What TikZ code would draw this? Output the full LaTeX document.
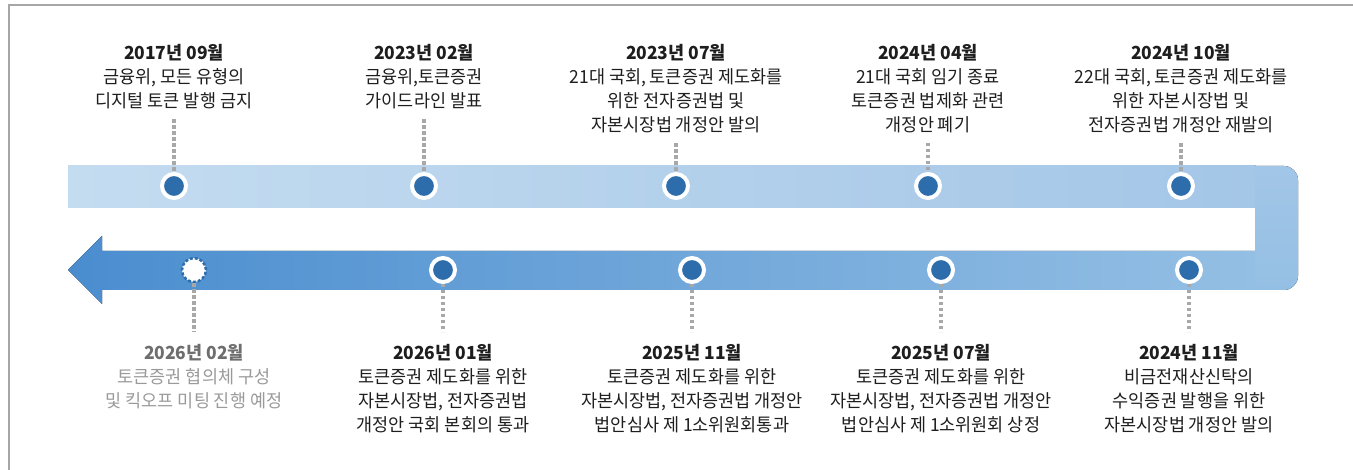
\documentclass[tikz,border=0pt]{standalone}
\usepackage{fontspec}
\setmainfont{Noto Sans CJK KR}[FakeStretch=0.97]
\usetikzlibrary{calc}
\definecolor{dotblue}{HTML}{2E6DAB}
\definecolor{txt}{HTML}{1E1E1E}
\definecolor{grayT}{HTML}{6E6E6E}
\definecolor{grayB}{HTML}{9A9A9A}
\definecolor{connGray}{HTML}{A8A8A8}
\definecolor{borderGray}{HTML}{A6A6A6}
\definecolor{topL}{HTML}{C4DCF0}
\definecolor{topR}{HTML}{A4C6E7}
\definecolor{vertT}{HTML}{A2C6E7}
\definecolor{vertB}{HTML}{94BFE4}
\definecolor{botL}{HTML}{4A8DCF}
\definecolor{botR}{HTML}{94BFE4}
\begin{document}
\begin{tikzpicture}[x=1pt,y=-1pt,
  lab/.style={align=center, inner sep=0pt, text=txt, font=\fontsize{18}{24}\selectfont},
  labgray/.style={lab, text=grayB},
  dotn/.style={circle, fill=dotblue, draw=white, line width=4pt, minimum size=24pt, inner sep=0pt},
  dotplan/.style={circle, fill=white, draw=dotblue, line width=2.5pt, dash pattern=on 3pt off 2pt, minimum size=24pt, inner sep=0pt},
  conn/.style={draw=connGray, line width=3.5pt, dash pattern=on 3.5pt off 2.5pt}]
\useasboundingbox (0,0) rectangle (1353,470);
% frame
\draw[borderGray, line width=2pt] (9,471) -- (9,5) -- (1354,5);
% bands
\fill[left color=topL, right color=topR] (68,166) rectangle (1256,208);
\fill[left color=botL, right color=botR] (68,270) -- (102,236) -- (102,251) -- (1256,251) -- (1256,290) -- (102,290) -- (102,304) -- cycle;
\fill[top color=vertT, bottom color=vertB] (1255,166) -- (1284,166) .. controls (1291.7,166) and (1298,172.3) .. (1298,180) -- (1298,276) .. controls (1298,283.7) and (1291.7,290) .. (1284,290) -- (1255,290) -- cycle;
% top dots
\node[dotn] (d1) at (174,186) {};
\node[dotn] (d2) at (424,186) {};
\node[dotn] (d3) at (676,186) {};
\node[dotn] (d4) at (928,186) {};
\node[dotn] (d5) at (1181,186) {};
% bottom dots
\node[dotplan] (e1) at (194,270) {};
\node[dotn] (e2) at (443,270) {};
\node[dotn] (e3) at (692,270) {};
\node[dotn] (e4) at (941,270) {};
\node[dotn] (e5) at (1189,270) {};
% top labels
\node[lab, anchor=north] (t1) at (174,44) {{\bfseries 2017년 09월}\\금융위, 모든 유형의\\디지털 토큰 발행 금지};
\node[lab, anchor=north] (t2) at (424,44) {{\bfseries 2023년 02월}\\금융위,토큰증권\\가이드라인 발표};
\node[lab, anchor=north] (t3) at (676,44) {{\bfseries 2023년 07월}\\21대 국회, 토큰증권 제도화를\\위한 전자증권법 및\\자본시장법 개정안 발의};
\node[lab, anchor=north] (t4) at (928,44) {{\bfseries 2024년 04월}\\21대 국회 임기 종료\\토큰증권 법제화 관련\\개정안 폐기};
\node[lab, anchor=north] (t5) at (1181,44) {{\bfseries 2024년 10월}\\22대 국회, 토큰증권 제도화를\\위한 자본시장법 및\\전자증권법 개정안 재발의};
% bottom labels
\node[labgray, anchor=north] (b1) at (194,344) {{\bfseries\color{grayT}2026년 02월}\\토큰증권 협의체 구성\\및 킥오프 미팅 진행 예정};
\node[lab, anchor=north] (b2) at (443,344) {{\bfseries 2026년 01월}\\토큰증권 제도화를 위한\\자본시장법, 전자증권법\\개정안 국회 본회의 통과};
\node[lab, anchor=north] (b3) at (692,344) {{\bfseries 2025년 11월}\\토큰증권 제도화를 위한\\자본시장법, 전자증권법 개정안\\법안심사 제 1소위원회통과};
\node[lab, anchor=north] (b4) at (941,344) {{\bfseries 2025년 07월}\\토큰증권 제도화를 위한\\자본시장법, 전자증권법 개정안\\법안심사 제 1소위원회 상정};
\node[lab, anchor=north] (b5) at (1189,344) {{\bfseries 2024년 11월}\\비금전재산신탁의\\수익증권 발행을 위한\\자본시장법 개정안 발의};
% connectors
\foreach \a/\b in {t1/d1,t2/d2,t3/d3,t4/d4,t5/d5}
  \draw[conn, shorten <=10pt] (\a.south) -- (\b);
\foreach \a/\b in {e1/b1,e2/b2,e3/b3,e4/b4,e5/b5}
  \draw[conn, shorten >=12pt] (\a) -- (\b.north);
\end{tikzpicture}
\end{document}
